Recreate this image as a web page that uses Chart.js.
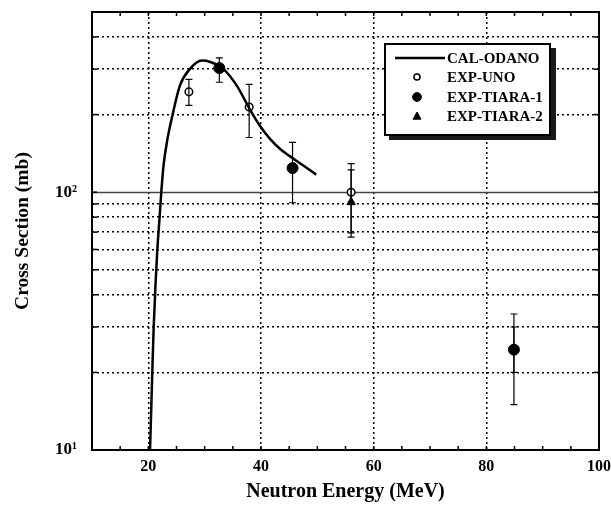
<!DOCTYPE html>
<html><head><meta charset="utf-8">
<script src="https://cdn.jsdelivr.net/npm/chart.js@4/dist/chart.umd.min.js"></script>
<style>html,body{margin:0;padding:0;background:#fff;}</style>
</head><body>
<canvas id="c" width="611" height="511"></canvas>
<script>
// ---- data ----
const calX = [20.3, 20.5, 20.7, 20.95, 21.3, 21.6, 22.0, 22.3, 22.7, 23.4, 24.4, 25.6, 27.4, 29.5, 31.0, 33.3, 35.7, 38.0, 39.8, 41.6, 43.4, 45.1, 47.5, 49.8];
const calY = [10, 14, 20, 30, 45, 60, 80, 100, 127, 161, 204, 259, 301, 324, 320, 301, 259, 210, 181, 161, 147, 138, 127, 117];
const unoX = [27.2, 37.9, 56.0];
const unoY = [245, 214, 100];
const unoLo = [217, 163, 67];
const unoHi = [274, 262, 129];
const t1X = [32.6, 45.6, 84.9];
const t1Y = [303, 124, 24.5];
const t1Lo = [267, 91, 15];
const t1Hi = [332, 156, 33.7];
const t2X = [56.0, 84.9];
const t2Y = [91.5, 24.5];
const t2Lo = [69.5, 20];
const t2Hi = [122, 30];
const seriesNames = ['CAL-ODANO', 'EXP-UNO', 'EXP-TIARA-1', 'EXP-TIARA-2'];
const xTicks = [10, 20, 40, 60, 80, 100];
const xMinor = [15, 25, 30, 35, 45, 50, 55, 65, 70, 75, 85, 90, 95];
const yTicks = [10, 20, 30, 40, 50, 60, 70, 80, 90, 100, 200, 300, 400, 500];
const yLabels = {10: '10\u00B9', 100: '10\u00B2'};
const xTitle = 'Neutron Energy (MeV)';
const yTitle = 'Cross Section (mb)';

const FONT = '"Liberation Serif", "Times New Roman", serif';
const pts = (xs, ys) => xs.map((x, i) => ({x: x, y: ys[i]}));

const errSets = [
  {xs: unoX, lo: unoLo, hi: unoHi},
  {xs: t1X, lo: t1Lo, hi: t1Hi},
  {xs: t2X, lo: t2Lo, hi: t2Hi}
];

const decor = {
  id: 'decor',
  beforeDatasetsDraw(chart) {
    const {ctx, chartArea: a, scales: {x, y}} = chart;
    ctx.save();
    const y100 = Math.round(y.getPixelForValue(100)) + 0.5;
    ctx.strokeStyle = '#444';
    ctx.lineWidth = 1.5;
    ctx.beginPath(); ctx.moveTo(a.left, y100); ctx.lineTo(a.right, y100); ctx.stroke();
    ctx.strokeStyle = '#000';
    ctx.lineWidth = 1.5;
    xMinor.concat(xTicks).forEach(v => {
      const px = x.getPixelForValue(v);
      ctx.beginPath(); ctx.moveTo(px, a.bottom); ctx.lineTo(px, a.bottom - 4); ctx.stroke();
      ctx.beginPath(); ctx.moveTo(px, a.top); ctx.lineTo(px, a.top + 4); ctx.stroke();
    });
    yTicks.forEach(v => {
      const py = y.getPixelForValue(v);
      ctx.beginPath(); ctx.moveTo(a.left, py); ctx.lineTo(a.left + 5, py); ctx.stroke();
      ctx.beginPath(); ctx.moveTo(a.right, py); ctx.lineTo(a.right - 5, py); ctx.stroke();
    });
    ctx.lineWidth = 2;
    ctx.strokeRect(a.left, a.top, a.right - a.left, a.bottom - a.top);
    ctx.restore();
  },
  afterDatasetsDraw(chart) {
    const {ctx, scales: {x, y}} = chart;
    ctx.save();
    ctx.strokeStyle = '#000';
    ctx.lineWidth = 1.2;
    errSets.forEach(s => {
      s.xs.forEach((xv, i) => {
        const px = x.getPixelForValue(xv);
        const p1 = y.getPixelForValue(s.lo[i]);
        const p2 = y.getPixelForValue(s.hi[i]);
        ctx.beginPath();
        ctx.moveTo(px, p1); ctx.lineTo(px, p2);
        ctx.moveTo(px - 3.5, p1); ctx.lineTo(px + 3.5, p1);
        ctx.moveTo(px - 3.5, p2); ctx.lineTo(px + 3.5, p2);
        ctx.stroke();
      });
    });
    ctx.restore();
  },
  afterDraw(chart) {
    const {ctx} = chart;
    const L = 385, T = 44, R = 550, B = 135;
    ctx.save();
    ctx.fillStyle = '#1a1a1a';
    ctx.fillRect(R, T + 4, 6, B - T + 1);
    ctx.fillRect(L + 4, B, R - L + 2, 5);
    ctx.fillStyle = '#fff';
    ctx.fillRect(L, T, R - L, B - T);
    ctx.strokeStyle = '#000';
    ctx.lineWidth = 2;
    ctx.strokeRect(L, T, R - L, B - T);
    const rows = [58, 77, 97, 116];
    ctx.font = 'bold 15px ' + FONT;
    ctx.textBaseline = 'middle';
    ctx.textAlign = 'left';
    ctx.fillStyle = '#000';
    const ds = chart.data.datasets;
    rows.forEach((ry, i) => {
      const d = ds[i];
      if (i === 0) {
        ctx.lineWidth = 2.5;
        ctx.beginPath(); ctx.moveTo(395, ry); ctx.lineTo(445, ry); ctx.stroke();
      } else {
        ctx.fillStyle = d.backgroundColor; ctx.strokeStyle = d.borderColor; ctx.lineWidth = d.borderWidth;
        ctx.beginPath();
        const r = d.pointRadius * 0.8;
        if (d.pointStyle === 'triangle') {
          ctx.moveTo(417, ry - r); ctx.lineTo(417 + r, ry + r * 0.8); ctx.lineTo(417 - r, ry + r * 0.8); ctx.closePath();
        } else {
          ctx.arc(417, ry, r, 0, Math.PI * 2);
        }
        ctx.fill(); ctx.stroke();
        ctx.fillStyle = '#000'; ctx.strokeStyle = '#000';
      }
      ctx.fillText(d.label, 447, ry + 1);
    });
    ctx.restore();
  }
};

new Chart(document.getElementById('c'), {
  type: 'scatter',
  data: {
    datasets: [
      {label: seriesNames[0], data: pts(calX, calY), showLine: true, borderColor: '#000', backgroundColor: '#000',
       borderWidth: 2.5, pointRadius: 0, cubicInterpolationMode: 'monotone', pointStyle: 'line'},
      {label: seriesNames[1], data: pts(unoX, unoY), pointStyle: 'circle', pointRadius: 3.8,
       backgroundColor: '#fff', borderColor: '#000', borderWidth: 1.5},
      {label: seriesNames[2], data: pts(t1X, t1Y), pointStyle: 'circle', pointRadius: 5.5,
       backgroundColor: '#000', borderColor: '#000', borderWidth: 1},
      {label: seriesNames[3], data: pts(t2X, t2Y), pointStyle: 'triangle', pointRadius: 5,
       backgroundColor: '#000', borderColor: '#000', borderWidth: 1}
    ]
  },
  options: {
    responsive: false,
    devicePixelRatio: 1,
    animation: false,
    layout: {padding: {top: 12, right: 12, left: 0, bottom: 0}},
    plugins: {legend: {display: false}, tooltip: {enabled: false}},
    scales: {
      x: {
        type: 'linear', min: 10, max: 100,
        afterBuildTicks: s => { s.ticks = xTicks.map(v => ({value: v})); },
        afterFit: s => { s.height = 61; s.paddingLeft = 0; s.paddingRight = 0; },
        ticks: {
          callback: v => (v === 10 ? '' : String(v)),
          font: {family: FONT, size: 16, weight: 'bold'}, color: '#000', padding: 7, maxRotation: 0
        },
        grid: {color: c => (c.tick && (c.tick.value === 10 || c.tick.value === 100)) ? 'rgba(0,0,0,0)' : '#000',
               lineWidth: 1.5, drawTicks: false},
        border: {display: false, dash: [2, 3]},
        title: {display: true, text: xTitle, font: {family: FONT, size: 20, weight: 'bold'}, color: '#000',
                padding: {top: 0, bottom: 7}}
      },
      y: {
        type: 'logarithmic', min: 10, max: 500,
        afterBuildTicks: s => { s.ticks = yTicks.map(v => ({value: v, major: v === 10 || v === 100})); },
        afterFit: s => { s.width = 92; s.paddingTop = 0; s.paddingBottom = 0; },
        ticks: {
          callback: v => yLabels[v] || '',
          font: {family: FONT, size: 17, weight: 'bold'}, color: '#000', padding: 15, autoSkip: false
        },
        grid: {color: c => (c.tick && (c.tick.value === 10 || c.tick.value === 100 || c.tick.value === 500)) ? 'rgba(0,0,0,0)' : '#000',
               lineWidth: 1.5, drawTicks: false},
        border: {display: false, dash: [2, 3]},
        title: {display: true, text: yTitle, font: {family: FONT, size: 19.5, weight: 'bold'}, color: '#000',
                padding: {top: 11, bottom: 0}}
      }
    }
  },
  plugins: [decor]
});
</script>
</body></html>
